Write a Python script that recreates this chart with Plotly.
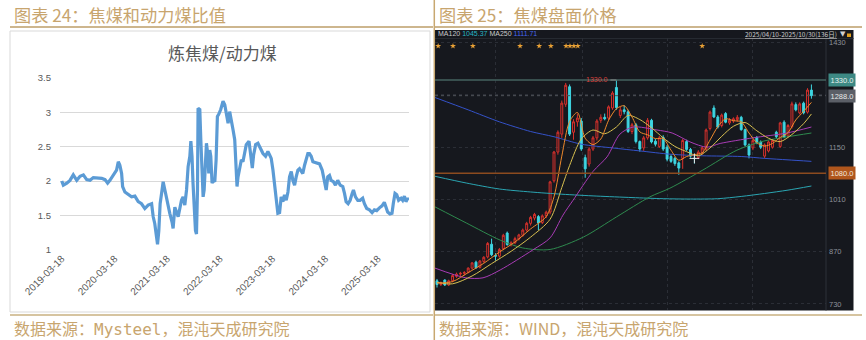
import plotly.graph_objects as go
import pandas as pd

W, H = 866, 340
def fx(px): return px / W
def fy(py): return 1 - py / H

# ---------------- left chart data: 炼焦煤/动力煤 ratio ----------------
ratio_start = "2019-03-18"
ratio_days = [0,11,35,57,80,104,127,150,173,196,219,242,277,300,318,334,357,380,392,403,
              415,422,438,461,484,507,530,553,576,599,623,634,645,657,664,673,682,692,703,715,
              733,749,765,772,784,807,830,841,853,865,876,888,895,903,910,917,927,934,941,945,
              957,964,973,980,987,996,1003,1014,1019,1026,1033,1042,1051,1061,1070,1079,1088,1102,1118,1130,
              1141,1153,
              1164,1176,1187,1199,1206,1215,1222,1233,1245,1256,1268,1279,1298,1307,1321,1330,1344,1360,1376,1395,
              1413,1429,1441,1452,1464,1475,1487,1498,1510,1521,1533,1544,1556,1568,1579,1591,1602,1614,1625,1637,
              1648,1660,1671,1683,1694,1706,1717,1729,1741,1764,1787,1805,1821,1833,1844,1856,1867,1883,1897,1913,
              1930,1948,1960,1971,1985,1999,2013,2022,2036,2052,2068,2086,2098,2114,2133,2151,2167,2183,2202,2220,
              2236,2248,2259,2275,2289,2298,2310,2322,2335,2352,2363,2375,2386,2398,2404]
ratio_vals = [2.00,1.94,1.97,2.01,2.09,2.01,2.07,2.09,2.02,2.01,2.05,2.05,2.04,2.02,1.97,2.01,2.09,2.16,2.28,2.23,
              2.11,1.92,1.84,1.80,1.77,1.78,1.70,1.67,1.60,1.65,1.67,1.48,1.38,1.19,1.08,1.28,1.67,1.82,1.99,1.87,
              1.67,1.53,1.40,1.31,1.62,1.48,1.72,1.77,1.65,1.87,2.21,2.36,2.58,2.36,1.97,1.67,1.28,1.23,1.87,3.06,
              3.04,2.60,2.11,1.77,1.87,2.36,2.55,2.36,2.11,2.45,2.36,1.97,2.01,1.99,2.31,2.94,2.97,3.04,3.16,3.11,
              2.94,2.84,
              3.01,2.84,2.75,2.60,2.26,1.92,2.06,2.21,2.31,2.28,2.45,2.53,2.58,2.40,2.19,2.38,2.53,2.55,2.48,2.40,
              2.36,2.43,2.38,2.33,2.16,1.92,1.72,1.53,1.54,1.77,1.70,1.80,1.72,1.84,2.06,2.14,2.01,1.94,2.06,2.16,
              2.18,2.13,2.11,2.23,2.33,2.40,2.40,2.36,2.28,2.27,2.25,2.16,2.01,1.87,2.06,2.08,2.01,1.99,1.94,2.01,
              1.94,1.92,1.82,1.70,1.67,1.72,1.82,1.87,1.77,1.72,1.72,1.75,1.67,1.60,1.58,1.54,1.58,1.57,1.61,1.64,
              1.69,1.62,1.55,1.52,1.53,1.67,1.82,1.80,1.72,1.75,1.72,1.78,1.70,1.75,1.72]
ratio_ticks = ["2019-03-18","2020-03-18","2021-03-18","2022-03-18","2023-03-18","2024-03-18","2025-03-18"]
ratio_yticks = [1, 1.5, 2, 2.5, 3, 3.5]

# ---------------- right chart data: 焦煤盘面 K-line ----------------
k_open  = [792,782,794,781,792,804,810,812,815,826,842,828,844,856,890,860,858,878,920,889,
           894,904,914,928,946,960,964,948,966,976,1060,1137,1185,1265,1312,1190,1218,1220,1122,1105,
           1145,1175,1222,1230,1228,1255,1310,1235,1250,1245,1192,1210,1165,1148,1175,1222,1166,1152,1176,1150,
           1125,1120,1108,1120,1165,1144,1120,1122,1134,1145,1200,1255,1231,1208,1240,1215,1220,1224,1230,1197,
           1156,1148,1176,1164,1126,1140,1150,1190,1152,1217,1180,1205,1264,1242,1268,1244,1303]
k_high  = [797,790,796,795,810,814,816,818,828,842,846,848,858,896,905,866,880,918,924,898,
           910,918,932,950,966,974,968,970,980,1060,1140,1195,1275,1322,1318,1225,1240,1228,1130,1150,
           1180,1225,1238,1240,1262,1300,1330,1258,1262,1250,1215,1215,1168,1180,1228,1226,1172,1180,1182,1156,
           1130,1124,1112,1172,1170,1148,1130,1142,1152,1200,1248,1262,1236,1240,1244,1228,1230,1236,1234,1200,
           1160,1172,1180,1168,1160,1168,1172,1194,1218,1222,1212,1272,1270,1270,1272,1308,1318]
k_low   = [774,778,778,778,788,800,805,806,812,822,824,825,840,852,858,846,854,874,886,884,
           890,900,910,924,940,954,928,944,960,970,1055,1130,1175,1258,1180,1170,1205,1140,1068,1098,
           1140,1168,1215,1222,1222,1250,1250,1228,1238,1188,1185,1160,1138,1140,1170,1160,1152,1148,1140,1112,
           1108,1100,1076,1092,1140,1122,1106,1118,1130,1140,1195,1228,1200,1203,1214,1210,1215,1218,1194,1152,
           1120,1142,1158,1145,1120,1136,1146,1174,1148,1174,1176,1200,1246,1238,1238,1240,1280]
k_close = [782,787,781,792,806,810,812,814,826,840,827,845,855,892,862,858,876,914,889,894,
           905,915,928,946,962,970,947,966,976,1057,1137,1190,1268,1316,1185,1218,1228,1145,1092,1145,
           1175,1220,1230,1226,1258,1295,1256,1250,1245,1192,1210,1165,1145,1175,1222,1164,1158,1175,1145,1118,
           1112,1106,1094,1168,1144,1126,1120,1137,1148,1196,1244,1231,1204,1236,1217,1222,1226,1230,1197,1156,
           1129,1168,1162,1150,1156,1164,1168,1178,1215,1177,1208,1266,1250,1266,1242,1303,1288]
k_idx = list(range(len(k_close)))

ma5_idx = [0,4,8,12,16,20,24,28,30,32,34,36,38,40,42,44,46,48,50,52,54,56,58,60,62,64,66,68,70,72,74,76,78,80,82,84,86,88,90,92,94,96]
ma5_val = [786,790,814,839,869,896,931,964,1017,1126,1219,1243,1174,1157,1172,1222,1253,1261,1231,1191,1183,1173,1173,1142,1115,1125,1130,1135,1169,1205,1226,1221,1218,1188,1162,1153,1160,1176,1189,1223,1246,1270]
ma10_idx = [0,4,9,14,19,24,29,32,34,37,40,43,46,49,52,55,58,61,64,67,70,73,76,79,82,85,88,91,94,96]
ma10_val = [788,784,805,838,871,909,957,1042,1101,1172,1196,1186,1204,1235,1224,1202,1175,1152,1138,1127,1148,1179,1206,1216,1194,1174,1165,1184,1213,1239]
ma20_idx = [-0.5,7.4,11.8,16.2,24.6,29,32.3,34.9,40,43.6,46.9,50.3,56.4,60.3,64.9,69.2,72.6,81,89.7,96]
ma20_val = [826,800,800,821,875,907,968,1008,1085,1124,1185,1204,1196,1188,1164,1150,1160,1175,1188,1204]
ma60_idx = [-0.5,7.5,16.2,22,29,37.5,46,54.6,59.7,68.2,76.9,83.6,90,96]
ma60_val = [990,947,901,880,876,909,963,1017,1040,1089,1142,1166,1178,1188]
ma120_idx = [-0.5,7.5,16,24,32,41,50,58,65,72,78,84,90,96]
ma120_val = [1072,1054,1038,1030,1024,1019,1015,1012,1011,1012,1018,1026,1035,1046]
ma250_idx = [-0.5,8,16,24,30,37,45,52,60,68,78,84,90,96]
ma250_val = [1283,1250,1218,1192,1178,1158,1148,1140,1131,1127,1125,1120,1116,1112]

star_idx = [0.3,4.1,9.2,21.3,26.2,29.2,33.1,34.1,35.1,36.1,68.0]
star_level = 1421
price_ticks = [730, 870, 1010, 1150, 1290, 1430]
price_tick_text = ["730", "870", "1010", "1150", "", "1430"]
level_high, level_last, level_low = 1330.0, 1288.0, 1080.0

TAN = "#c8a56e"
CJK = "Noto Sans CJK SC"
NARROW = "Liberation Sans Narrow, Liberation Sans"
MONO = "DejaVu Sans Mono"

fig = go.Figure()

# left line
dates = pd.Timestamp(ratio_start) + pd.to_timedelta(ratio_days, unit="D")
fig.add_trace(go.Scatter(x=dates, y=ratio_vals, mode="lines",
                         line=dict(color="#5b9bd5", width=3.2),
                         xaxis="x", yaxis="y", hoverinfo="skip"))

# right: MA lines
ma_specs = [
    (ma120_idx, ma120_val, "#2aa5b2"),
    (ma250_idx, ma250_val, "#3452c9"),
    (ma60_idx, ma60_val, "#2e8a4e"),
    (ma20_idx, ma20_val, "#a83bb5"),
    (ma10_idx, ma10_val, "#d8c050"),
    (ma5_idx, ma5_val, "#f08a2c"),
]
for xs, ys, col in ma_specs:
    fig.add_trace(go.Scatter(x=xs, y=ys, mode="lines", line=dict(color=col, width=1, shape="spline", smoothing=0.8),
                             xaxis="x2", yaxis="y2", hoverinfo="skip"))

fig.add_trace(go.Candlestick(
    x=k_idx, open=k_open, high=k_high, low=k_low, close=k_close,
    increasing=dict(line=dict(color="#d8312c", width=1), fillcolor="rgba(0,0,0,0)"),
    decreasing=dict(line=dict(color="#3ed6e2", width=1), fillcolor="#3ed6e2"),
    whiskerwidth=0, xaxis="x2", yaxis="y2", hoverinfo="skip"))

# doji cross
fig.add_trace(go.Scatter(x=[66], y=[k_close[66]], mode="markers",
                         marker=dict(symbol="cross-thin", size=7, line=dict(color="#e8e8e8", width=1)),
                         xaxis="x2", yaxis="y2", hoverinfo="skip"))

# stars
fig.add_trace(go.Scatter(x=star_idx, y=[star_level] * len(star_idx), mode="markers",
                         marker=dict(symbol="star", size=4.5, color="#e8a035"),
                         xaxis="x2", yaxis="y2", hoverinfo="skip"))

start = pd.Timestamp(ratio_start)
x_range = [start - pd.Timedelta(days=12), start + pd.Timedelta(days=2407)]

def pline(x0, x1, y0, y1, color, width, dash=None):
    d = dict(type="line", xref="paper", yref="paper", x0=fx(x0), x1=fx(x1), y0=fy(y0), y1=fy(y1),
             line=dict(color=color, width=width))
    if dash:
        d["line"]["dash"] = dash
    return d

shapes = [
    dict(type="rect", xref="paper", yref="paper", x0=fx(10), x1=fx(430), y0=fy(312), y1=fy(31),
         line=dict(color="#d9d9d9", width=1), fillcolor="white", layer="below"),
    dict(type="rect", xref="paper", yref="paper", x0=fx(435), x1=fx(853.5), y0=fy(310.5), y1=fy(30),
         line=dict(width=0), fillcolor="#16181e", layer="below"),
    dict(type="line", xref="paper", yref="paper", x0=fx(435), x1=fx(853.5), y0=fy(38.5), y1=fy(38.5),
         line=dict(color="#262a31", width=1), layer="below"),
    dict(type="line", xref="paper", yref="paper", x0=fx(826), x1=fx(826), y0=fy(310.5), y1=fy(38.5),
         line=dict(color="#2c3038", width=1), layer="below"),
    pline(10, 433, 27, 27, "#cdb68e", 2),
    pline(435, 862, 27, 27, "#cdb68e", 2),
    pline(10, 433, 315, 315, "#d6c4a0", 2),
    pline(435, 862, 315, 315, "#d6c4a0", 2),
    pline(434.3, 434.3, 0, 340, "#c8a870", 1.5),
    dict(type="line", xref="paper", yref="y2", x0=fx(435), x1=fx(826), y0=level_high, y1=level_high,
         line=dict(color="#45625f", width=1.5)),
    dict(type="line", xref="paper", yref="y2", x0=fx(435), x1=fx(826), y0=level_last, y1=level_last,
         line=dict(color="#50535a", width=1, dash="dot")),
    dict(type="line", xref="paper", yref="y2", x0=fx(435), x1=fx(826), y0=level_low, y1=level_low,
         line=dict(color="#8c4b1f", width=1.5)),
    dict(type="rect", xref="paper", yref="paper", x0=fx(847), x1=fx(851), y0=fy(37), y1=fy(33.5),
         line=dict(width=0), fillcolor="#e0a020"),
]

def ptext(text, x, y, size, color, family=CJK, xanchor="left", **kw):
    d = dict(text=text, xref="paper", yref="paper", x=fx(x), y=fy(y), xanchor=xanchor, yanchor="middle",
             showarrow=False, font=dict(family=family, size=size, color=color))
    d.update(kw)
    return d

annotations = [
    ptext("图表 24：焦煤和动力煤比值", 12, 15, 17.2, TAN),
    ptext("图表 25：焦煤盘面价格", 437, 15, 17.2, TAN),
    ptext("数据来源：<span style='font-family:DejaVu Sans Mono'>Mysteel</span>，混沌天成研究院", 12, 328, 16, TAN),
    ptext("数据来源：WIND，混沌天成研究院", 437, 328, 16, TAN),
    ptext("炼焦煤/动力煤", 222, 52, 17, "#595959", xanchor="center"),
    ptext("MA120 <span style='color:#27b5c4'>1045.37</span> MA250 <span style='color:#4866f0'>1111.71</span>",
          436, 34, 7, "#c9c9c9", family=NARROW),
    ptext("<u>2025/04/10-2025/10/30(136日)</u>", 839, 34, 6.5, "#c9c9c9",
          family="Liberation Sans Narrow, Noto Sans CJK SC", xanchor="right"),
    ptext("▼", 843, 34, 7, "#d0d0d0", family="DejaVu Sans", xanchor="center"),
    dict(text="1330.0", x=fx(828), y=level_high, xref="paper", yref="y2", xanchor="left", yanchor="middle",
         showarrow=False, bgcolor="#3d8984", borderpad=1.5, font=dict(family=NARROW, size=7.5, color="#e8f0ef")),
    dict(text="1288.0", x=fx(828), y=level_last, xref="paper", yref="y2", xanchor="left", yanchor="middle",
         showarrow=False, bgcolor="#5b5f67", borderpad=1.5, font=dict(family=NARROW, size=7.5, color="#e8e8e8")),
    dict(text="1080.0", x=fx(828), y=level_low, xref="paper", yref="y2", xanchor="left", yanchor="middle",
         showarrow=False, bgcolor="#b0561c", borderpad=1.5, font=dict(family=NARROW, size=7.5, color="#f2e6dc")),
    dict(text="1330.0", x=46, y=level_high, xref="x2", yref="y2", showarrow=True, arrowhead=0,
         arrowcolor="#8a8a8a", arrowwidth=1, ax=-6, ay=0, xanchor="right", yanchor="middle",
         font=dict(family=NARROW, size=7, color="#d9403a")),
]

fig.update_layout(
    width=W, height=H, autosize=False,
    margin=dict(l=0, r=0, t=0, b=0, pad=0, autoexpand=False),
    paper_bgcolor="white", plot_bgcolor="rgba(0,0,0,0)",
    showlegend=False, hovermode=False,
    shapes=shapes, annotations=annotations,
    xaxis=dict(domain=[fx(60), fx(409)], type="date", range=x_range, anchor="y",
               tickvals=ratio_ticks, ticktext=ratio_ticks, tickangle=-45,
               tickfont=dict(family="Liberation Sans", size=10, color="#595959"),
               showgrid=False, zeroline=False, showline=False, ticks="", automargin=False),
    yaxis=dict(domain=[fy(250), fy(77.7)], range=[0.997, 3.503], anchor="x",
               tickvals=ratio_yticks, ticktext=["1", "1.5", "2", "2.5", "3", "3.5"],
               tickfont=dict(family="Liberation Sans", size=9.5, color="#595959"),
               gridcolor="#d9d9d9", gridwidth=1, zeroline=False, showline=False, ticks="",
               ticklabelstandoff=8, automargin=False),
    xaxis2=dict(domain=[fx(435), fx(826)], range=[-0.51, 99.74], anchor="y2",
                tickvals=[15.1, 37.2, 59.0, 81.0], showticklabels=False, ticks="",
                showgrid=True, gridcolor="#2b2e36", griddash="dot", gridwidth=1,
                zeroline=False, showline=False, rangeslider=dict(visible=False), automargin=False),
    yaxis2=dict(domain=[fy(310), fy(38)], range=[713.8, 1442.5], anchor="x2", side="right",
                tickvals=price_ticks, ticktext=price_tick_text, ticks="",
                tickfont=dict(family=NARROW, size=7.5, color="#8c9099"),
                showgrid=True, gridcolor="#2b2e36", griddash="dot", gridwidth=1,
                zeroline=False, showline=False, ticklabelstandoff=2, automargin=False),
)

fig.write_html("out.html")
